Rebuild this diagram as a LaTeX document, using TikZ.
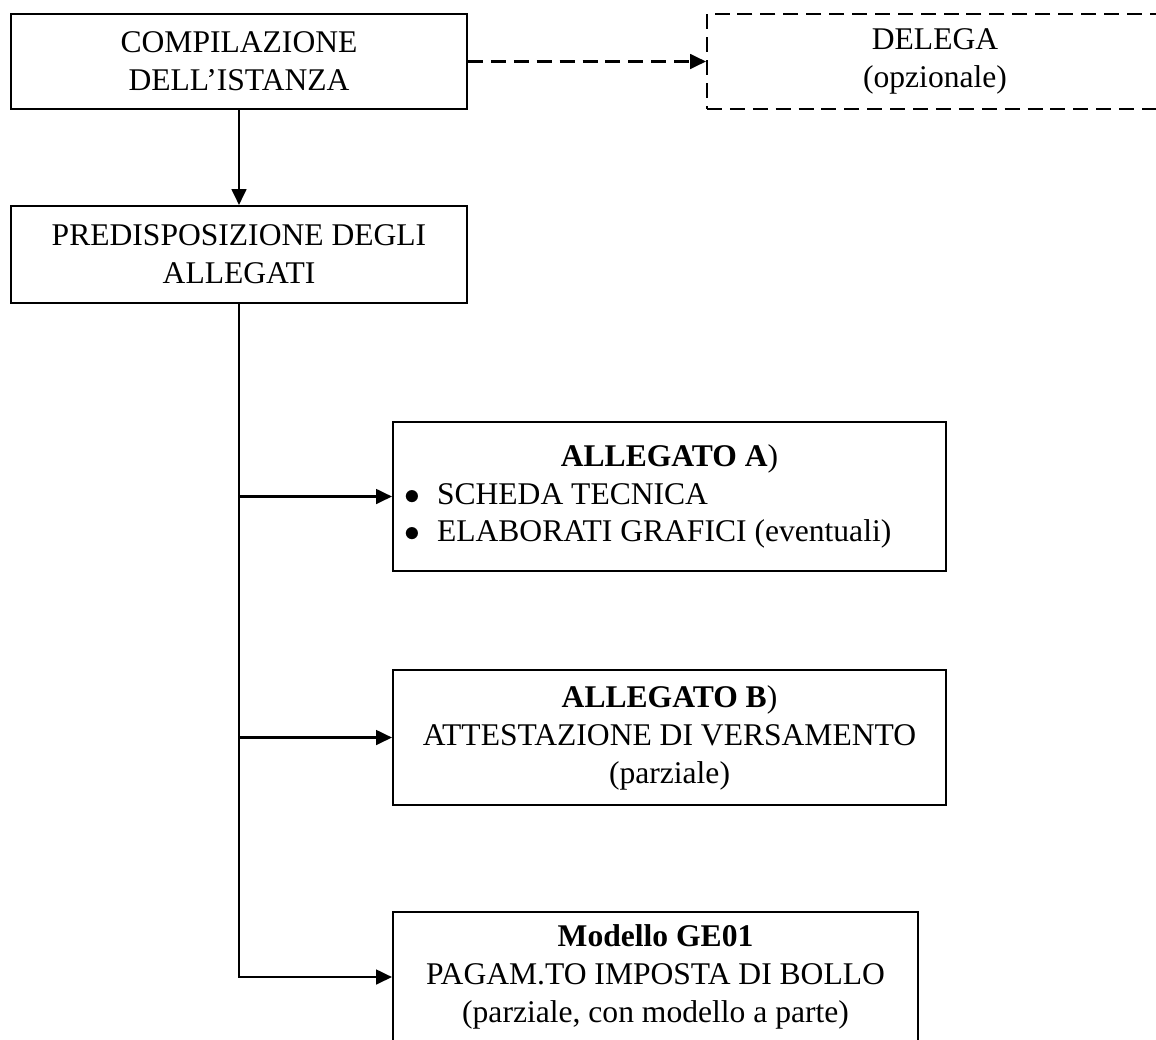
\documentclass[tikz,border=0pt]{standalone}
\usepackage{fontspec}
\setmainfont{Liberation Serif}
\usetikzlibrary{arrows.meta,positioning}

\newlength\px \setlength\px{0.38pt}
\newcommand\bulletline[1]{\makebox[531\px][l]{\makebox[33\px][l]{$\bullet$}#1}}

\tikzset{
  blockbox/.style={draw, line width=0.8pt, inner sep=0pt, align=center,
    font=\fontsize{12}{14.4}\selectfont},
  optbox/.style={blockbox, dash pattern=on 5.7pt off 3pt},
  flow/.style={line width=0.8pt, -{Triangle[length=6pt,width=5.6pt]}},
}

\begin{document}
\begin{tikzpicture}[x=0.38pt, y=-0.38pt]
\useasboundingbox (0,0) rectangle (1156,1039);
\clip (0,0) rectangle (1156,1039);

% BOXES
\node[blockbox, minimum width=456\px, minimum height=95\px] (comp) at (239,61.5)
  {COMPILAZIONE\\DELL'ISTANZA};

\node[optbox, minimum width=456\px, minimum height=95\px] (delega) at (935,61.5)
  {DELEGA\\(opzionale)};   % cut off at the right

\node[blockbox, minimum width=456\px, minimum height=97\px] (predisp) at (239,254.5)
  {PREDISPOSIZIONE DEGLI\\ALLEGATI};

\node[blockbox, minimum width=553\px, minimum height=149\px] (allA) at (669.5,496.5)
  {\textbf{ALLEGATO A})\\
   \bulletline{SCHEDA TECNICA}\\
   \bulletline{ELABORATI GRAFICI (eventuali)}};

\node[blockbox, minimum width=553\px, minimum height=135\px] (allB) at (669.5,737.5)
  {\textbf{ALLEGATO B})\\ATTESTAZIONE DI VERSAMENTO\\(parziale)};

\node[blockbox, minimum width=525\px, minimum height=130\px] (modGE) at (655.5,977)
  {\textbf{Modello GE01}\\PAGAM.TO IMPOSTA DI BOLLO\\(parziale, con modello a parte)};


% ARROWS
\draw[flow] (comp) -- (predisp);
\draw[flow, dash pattern=on 5.7pt off 3pt] (comp) -- (delega);

\draw[flow] (predisp.south) |- (modGE.west);
\draw[flow] (predisp.south |- allA.west) -- (allA.west);
\draw[flow] (predisp.south |- allB.west) -- (allB.west);

\end{tikzpicture}
\end{document}
